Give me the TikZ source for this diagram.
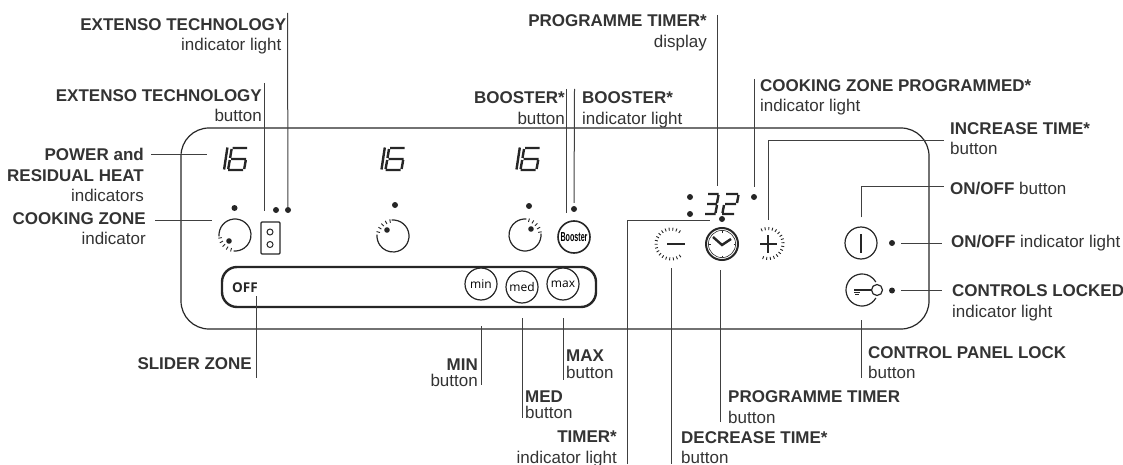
\documentclass[tikz,border=0pt]{standalone}
\usepackage{fontspec}
\setmainfont{Liberation Sans}
\newfontfamily\panelfont{Open Sans}
\definecolor{inkgrey}{HTML}{333333}
\tikzset{
    lead/.style={draw=black!75, line width=1pt},
    panelline/.style={draw=black!85, line width=1.2pt},
    seg/.style={draw=black!85, line width=2.4pt},
    tick/.style={draw=black!85, line width=0.9pt},
    dotlamp/.style={circle, fill=black!85, inner sep=0pt, minimum size=6pt},
    ring/.style={circle, draw=black!85, line width=1.2pt, inner sep=0pt, minimum size=32pt},
    labelleft/.style={anchor=east, align=right, inner sep=0pt, text=inkgrey, font=\fontsize{17}{20.5}\selectfont},
    labelright/.style={anchor=west, align=left, inner sep=0pt, text=inkgrey, font=\fontsize{17}{20.5}\selectfont},
    tightleft/.style={labelleft, font=\fontsize{17}{16.5}\selectfont},
    tightright/.style={labelright, font=\fontsize{17}{16.5}\selectfont},
    sliderbtn/.style={ring, font=\panelfont\fontsize{12}{12}\selectfont},
    sixteen/.pic={
        \draw[seg] (4.8,0.5) -- (1.5,22.5);
        \draw[seg] (10,1) -- (24.5,1) (9,2) -- (7.5,11) (8.5,12) -- (23.5,12)
            (7.2,13) -- (5.6,22) (5.5,23) -- (20.5,23) (23.2,13) -- (21.6,22);
    }
}
\begin{document}
\begin{tikzpicture}[x=1pt,y=-1pt]
    \useasboundingbox (0,0) rectangle (1123,465);
    \draw[panelline, rounded corners=28pt] (181,128) rectangle (929,329);
    \draw[panelline, line width=2.4pt, rounded corners=15pt] (222,267) rectangle (596,307);

    % displays
    \foreach \x in {222.6,380,515} {
        \pic at (\x,147) {sixteen};
    }
    \draw[seg] (708,194) -- (718.5,194) (718.5,195) -- (717,203) (707,204) -- (717,204)
        (717,205) -- (715.5,213) (705,214) -- (715.5,214);
    \draw[seg] (726,194) -- (738,194) (738.5,195) -- (737,203) (725,204) -- (736,204)
        (724,205) -- (722.5,213) (722,214) -- (734,214);

    % zone knobs
    \foreach \x/\y/\s/\ix/\iy in {235/235/95/229/241, 393/236/185/387/230, 525/235/275/531/229} {
        \draw[panelline] (\x,\y) ++(\s+80:16) arc[start angle=\s+80, end angle=\s+360, radius=16];
        \foreach \a in {10,26,42,58,74} {
            \draw[tick] (\x,\y) ++(\s+\a:13.5) -- ++(\s+\a:3.5);
        }
        \fill[black!85] (\ix,\iy) circle[radius=2.8];
    }

    % lamps
    \node[dotlamp] (zoneone) at (234.5,208) {};
    \node[dotlamp] (zonetwo) at (395,205) {};
    \node[dotlamp] (zonethree) at (529,206) {};
    \node[dotlamp] (extensobtnlamp) at (276,210) {};
    \node[dotlamp] (extensolamp) at (288,210) {};
    \node[dotlamp] (boosterlamp) at (574,209) {};
    \node[dotlamp] (colontop) at (690,197) {};
    \node[dotlamp] (colonlow) at (690,214) {};
    \node[dotlamp] (programlamp) at (754,197) {};
    \node[dotlamp] (timerlamp) at (722,219) {};
    \node[dotlamp] (onofflamp) at (892,243) {};
    \node[dotlamp] (locklamp) at (892,290.5) {};

    % buttons
    \node[draw=black!85, line width=1.2pt, rounded corners=1pt, inner sep=0pt, minimum width=19pt, minimum height=32pt] (extensobtn) at (270.5,238) {};
    \draw[black!85, line width=1pt] (270,232) circle[radius=3] (270,244.5) circle[radius=3];
    \node[ring, line width=1.6pt] (booster) at (574,237) {};
    \node[xscale=0.55, font=\bfseries\fontsize{13}{13}\selectfont, inner sep=0pt] (boostertext) at (574,237) {Booster};
    \node[anchor=west, inner sep=0pt, font=\panelfont\bfseries\fontsize{13.5}{13.5}\selectfont, text=black!85] (off) at (232,288) {OFF};
    \node[sliderbtn] (minbtn) at (481,284) {min};
    \node[sliderbtn] (medbtn) at (522,287) {med};
    \node[sliderbtn] (maxbtn) at (563,284) {max};

    \node[ring, draw=none, minimum size=34pt] (decrease) at (671,244) {};
    \foreach \a in {53,67,...,305} {
        \draw[tick] (decrease.center) ++(\a:13.5) -- ++(\a:3);
    }
    \draw[black!85, line width=2pt] (667,244) -- (685,244);

    \node[ring, line width=2pt] (clock) at (722,244) {};
    \draw[black!85, line width=0.6pt] (clock.center) circle[radius=13.6];
    \draw[black!85, line width=2.4pt] (713,237) -- (722,245) -- (731,239);
    \foreach \a in {0,90,180,270} {
        \draw[black!85, line width=0.6pt] (clock.center) ++(\a:11.5) -- ++(\a:1.5);
    }

    \node[ring, draw=none, minimum size=34pt] (increase) at (768,243.5) {};
    \foreach \a in {-115,-101,...,112} {
        \draw[tick] (increase.center) ++(\a:13.5) -- ++(\a:3);
    }
    \draw[black!85, line width=2pt] (760,243.5) -- (777,243.5) (768,235) -- (768,253);

    \node[ring] (onoff) at (861,243) {};
    \draw[black!85, line width=1.2pt] (onoff.center) ++(0,-9) -- ++(0,19);

    \node[circle, draw=black!85, line width=1.2pt, inner sep=0pt, minimum size=11pt] (keyhead) at (877,290) {};
    \coordinate (lockcentre) at (862,290);
    \coordinate (keytail) at (854,290);
    \draw[panelline] (lockcentre) ++(30:16) arc[start angle=30, end angle=330, radius=16];
    \draw[black!85, line width=1.2pt] (keytail) -- (keyhead);
    \draw[black!85, line width=0.8pt] (854,292) -- (860,292) (855,294) -- (859,294);

    % labels
    \node[labelleft] (extensolamplabel) at (286.5,36.5) {\textbf{EXTENSO TECHNOLOGY}\\indicator light\kern5pt};
    \node[labelleft] (extensobtnlabel) at (262,105.5) {\textbf{EXTENSO TECHNOLOGY}\\button};
    \node[labelleft] (powerlabel) at (144,175) {\textbf{POWER and}\\\textbf{RESIDUAL HEAT}\\indicators};
    \node[labelleft] (zonelabel) at (146,228.5) {\textbf{COOKING ZONE}\\indicator};
    \node[labelleft] (boosterbtnlabel) at (565,108) {\textbf{BOOSTER*}\\button};
    \node[labelright] (boosterlamplabel) at (582,110) {\textbf{BOOSTER*}\\indicator light};
    \node[labelleft] (displaylabel) at (707,33) {\textbf{PROGRAMME TIMER*}\\display};
    \node[labelright] (programlabel) at (760,97.5) {\textbf{COOKING ZONE PROGRAMMED*}\\indicator light};
    \node[labelright] (increaselabel) at (950,138.5) {\textbf{INCREASE TIME*}\\button};
    \node[labelright] (onofflabel) at (950,189) {\textbf{ON/OFF} button};
    \node[labelright] (onofflamplabel) at (951,243.5) {\textbf{ON/OFF} indicator light};
    \node[labelright] (locklamplabel) at (952,303) {\textbf{CONTROLS LOCKED}\\indicator light};
    \node[labelright] (locklabel) at (868,362.5) {\textbf{CONTROL PANEL LOCK}\\button};
    \node[labelleft] (sliderlabel) at (252,363.5) {\textbf{SLIDER ZONE}};
    \node[tightleft] (minlabel) at (478,372.5) {\textbf{MIN}\\button};
    \node[tightright] (medlabel) at (525,404.5) {\textbf{MED}\\button};
    \node[tightright] (maxlabel) at (566,364) {\textbf{MAX}\\button};
    \node[labelleft] (timerlabel) at (617,449) {\textbf{TIMER*}\\indicator light};
    \node[labelright] (decreaselabel) at (681,447.5) {\textbf{DECREASE TIME*}\\button};
    \node[labelright] (programbtnlabel) at (728,407) {\textbf{PROGRAMME TIMER}\\button};

    % free ends of the leaders
    \coordinate (extensolamptop) at (287.5,13);
    \coordinate (extensobtntop) at (264.5,83);
    \coordinate (extensobtnend) at (264.5,211);
    \coordinate (powerend) at (151,155);
    \coordinate (powertip) at (207,155);
    \coordinate (zoneend) at (155,220);
    \coordinate (zonetip) at (212,220);
    \coordinate (boosterbtntop) at (566,89);
    \coordinate (boosterbtnend) at (566,213);
    \coordinate (boosterlamptop) at (574.5,89);
    \coordinate (displaytop) at (717,15);
    \coordinate (displayend) at (717,186);
    \coordinate (programtop) at (754,79);
    \coordinate (increaseend) at (944,140.5);
    \coordinate (onoffend) at (944,186);
    \coordinate (onofflampend) at (942,243);
    \coordinate (locklampend) at (942,290.5);
    \coordinate (lockbottom) at (861,378);
    \coordinate (locktop) at (861,320);
    \coordinate (sliderbottom) at (256,378);
    \coordinate (slidertop) at (256,296);
    \coordinate (minbottom) at (481,385);
    \coordinate (mintop) at (481,326);
    \coordinate (medbottom) at (522,418);
    \coordinate (medtop) at (522,318);
    \coordinate (maxbottom) at (563,380);
    \coordinate (maxtop) at (563,318);
    \coordinate (timerbottom) at (627,464);
    \coordinate (timerend) at (710,220);
    \coordinate (decreasebottom) at (671,464);
    \coordinate (decreasetop) at (671,268);
    \coordinate (programbtnbottom) at (720,422);
    \coordinate (programbtntop) at (720,270);

    % leaders
    \draw[lead] (extensolamptop) -- (extensolamp);
    \draw[lead] (extensobtntop) -- (extensobtnend);
    \draw[lead] (powerend) -- (powertip);
    \draw[lead] (zoneend) -- (zonetip);
    \draw[lead] (boosterbtntop) -- (boosterbtnend);
    \draw[lead, shorten >=3pt] (boosterlamptop) -- (boosterlamp);
    \draw[lead] (displaytop) -- (displayend);
    \draw[lead, shorten >=7pt] (programtop) -- (programlamp);
    \draw[lead, shorten <=6pt] (increase.north) |- (increaseend);
    \draw[lead, shorten <=9pt] (onoff.north) |- (onoffend);
    \draw[lead, shorten <=6pt] (onofflamp) -- (onofflampend);
    \draw[lead, shorten <=6pt] (locklamp) -- (locklampend);
    \draw[lead] (locktop) -- (lockbottom);
    \draw[lead] (slidertop) -- (sliderbottom);
    \draw[lead] (mintop) -- (minbottom);
    \draw[lead] (medtop) -- (medbottom);
    \draw[lead] (maxtop) -- (maxbottom);
    \draw[lead] (timerbottom) |- (timerend);
    \draw[lead] (decreasetop) -- (decreasebottom);
    \draw[lead] (programbtntop) -- (programbtnbottom);
\end{tikzpicture}
\end{document}
